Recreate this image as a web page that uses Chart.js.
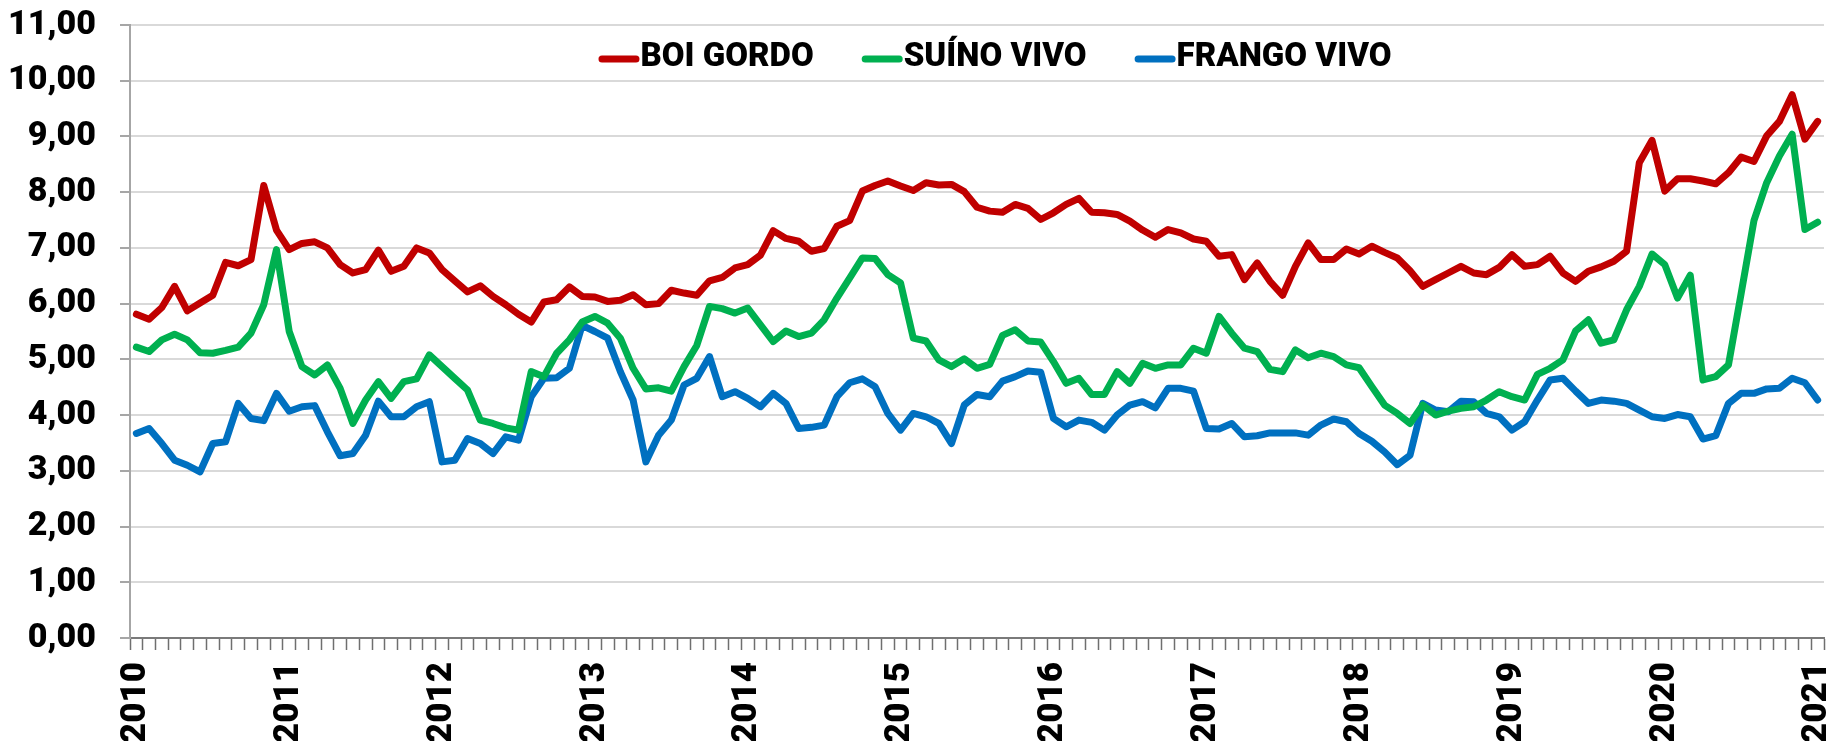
<!DOCTYPE html>
<html>
<head>
<meta charset="utf-8">
<script src="https://cdn.jsdelivr.net/npm/chart.js@4.4.1/dist/chart.umd.min.js"></script>
<style>
  html, body { margin: 0; padding: 0; background: #ffffff; }
  #wrap { width: 1837px; height: 741px; position: relative; }
</style>
</head>
<body>
<div id="wrap"><canvas id="c"></canvas></div>
<script>
// ---- DATA ----
const years = ['2010','2011','2012','2013','2014','2015','2016','2017','2018','2019','2020','2021'];
const monthNames = ['jan','fev','mar','abr','mai','jun','jul','ago','set','out','nov','dez'];
// monthly categories Jan/2010 .. Jan/2021
const categories = [];
years.forEach(y => monthNames.forEach(m => { if (categories.length < 133) categories.push(m + '/' + y); }));

const seriesNames = ['BOI GORDO', 'SUÍNO VIVO', 'FRANGO VIVO'];

const boiGordo = [
  5.81,5.72,5.93,6.31,5.87,6.01,6.15,6.74,6.68,6.79,8.12,7.32,
  6.97,7.08,7.11,7.00,6.70,6.55,6.61,6.96,6.58,6.67,7.00,6.91,
  6.61,6.41,6.21,6.32,6.13,5.98,5.81,5.67,6.03,6.07,6.30,6.13,
  6.12,6.04,6.06,6.16,5.98,6.00,6.24,6.19,6.15,6.41,6.47,6.64,
  6.70,6.87,7.31,7.17,7.12,6.94,6.99,7.39,7.49,8.02,8.12,8.20,
  8.11,8.03,8.17,8.13,8.14,8.01,7.73,7.66,7.64,7.78,7.71,7.51,
  7.63,7.78,7.89,7.64,7.63,7.60,7.48,7.32,7.19,7.33,7.27,7.16,
  7.12,6.85,6.88,6.43,6.73,6.40,6.15,6.67,7.09,6.79,6.79,6.98,
  6.89,7.03,6.92,6.82,6.59,6.31,6.43,6.55,6.67,6.55,6.52,6.65,
  6.88,6.67,6.70,6.85,6.55,6.40,6.58,6.66,6.76,6.94,8.53,8.93,
  8.02,8.24,8.24,8.20,8.15,8.35,8.63,8.55,9.01,9.27,9.75,8.95,
  9.27
];
const suinoVivo = [
  5.22,5.14,5.35,5.45,5.35,5.12,5.11,5.16,5.22,5.47,5.98,6.97,
  5.50,4.87,4.72,4.90,4.48,3.85,4.27,4.60,4.30,4.60,4.65,5.08,
  4.87,4.66,4.45,3.91,3.85,3.77,3.73,4.78,4.69,5.11,5.35,5.67,
  5.77,5.65,5.38,4.84,4.47,4.49,4.43,4.87,5.25,5.95,5.91,5.83,
  5.92,5.62,5.32,5.51,5.41,5.47,5.71,6.10,6.46,6.82,6.81,6.52,
  6.37,5.38,5.33,4.99,4.87,5.01,4.84,4.91,5.43,5.53,5.33,5.31,
  4.96,4.57,4.66,4.37,4.37,4.78,4.57,4.93,4.84,4.90,4.90,5.20,
  5.11,5.77,5.47,5.20,5.14,4.82,4.78,5.17,5.03,5.11,5.05,4.90,
  4.85,4.51,4.18,4.03,3.85,4.18,4.00,4.07,4.12,4.15,4.27,4.42,
  4.33,4.27,4.73,4.84,4.99,5.51,5.71,5.29,5.35,5.89,6.31,6.89,
  6.70,6.10,6.51,4.63,4.69,4.90,6.19,7.49,8.17,8.65,9.04,7.33,
  7.46
];
const frangoVivo = [
  3.67,3.76,3.49,3.19,3.10,2.98,3.49,3.52,4.21,3.94,3.90,4.39,
  4.07,4.15,4.17,3.70,3.27,3.31,3.64,4.25,3.97,3.97,4.15,4.24,
  3.16,3.19,3.58,3.49,3.31,3.61,3.55,4.33,4.66,4.67,4.84,5.61,
  5.50,5.38,4.78,4.27,3.16,3.64,3.91,4.54,4.66,5.05,4.33,4.42,
  4.30,4.15,4.39,4.21,3.76,3.78,3.82,4.33,4.58,4.65,4.51,4.03,
  3.73,4.03,3.97,3.85,3.49,4.18,4.37,4.33,4.61,4.69,4.79,4.77,
  3.94,3.79,3.91,3.87,3.73,4.00,4.18,4.24,4.13,4.48,4.48,4.43,
  3.76,3.75,3.85,3.61,3.63,3.68,3.68,3.68,3.64,3.82,3.93,3.88,
  3.67,3.53,3.34,3.11,3.28,4.21,4.09,4.06,4.25,4.24,4.03,3.97,
  3.73,3.88,4.27,4.63,4.66,4.43,4.21,4.27,4.25,4.21,4.09,3.97,
  3.94,4.01,3.97,3.57,3.63,4.21,4.39,4.39,4.47,4.48,4.66,4.58,
  4.27
];
const yTicks = [0,1,2,3,4,5,6,7,8,9,10,11];

// ---- STYLE ----
const colors = ['#C00000', '#00B050', '#0070C0'];
const FONT = 'Roboto, "Liberation Sans", Arial, sans-serif';

const legendPlugin = {
  id: 'topLegend',
  afterDraw(chart) {
    const ctx = chart.ctx;
    const ca = chart.chartArea;
    ctx.save();
    ctx.font = '900 33px ' + FONT;
    const lineLen = 34, cap = 3.5, gapText = 1, itemGap = 48;
    const items = chart.data.datasets.map(ds => ({
      label: ds.label, color: ds.borderColor, w: ctx.measureText(ds.label).width
    }));
    const itemW = it => cap * 2 + lineLen + gapText + it.w;
    const total = items.reduce((s, it) => s + itemW(it), 0) + itemGap * (items.length - 1);
    let x = (ca.left + ca.right) / 2 + 18 - total / 2;
    const y = 58;
    items.forEach(it => {
      ctx.beginPath();
      ctx.strokeStyle = it.color;
      ctx.lineWidth = 7;
      ctx.lineCap = 'round';
      ctx.moveTo(x + cap, y + 1);
      ctx.lineTo(x + cap + lineLen, y + 1);
      ctx.stroke();
      ctx.fillStyle = '#000000';
      ctx.textBaseline = 'middle';
      ctx.textAlign = 'left';
      ctx.fillText(it.label, x + cap * 2 + lineLen + gapText, y);
      x += itemW(it) + itemGap;
    });
    ctx.restore();
  }
};

const seriesData = [boiGordo, suinoVivo, frangoVivo];

new Chart(document.getElementById('c'), {
  type: 'line',
  data: {
    labels: categories,
    datasets: seriesNames.map((n, i) => ({
      label: n,
      data: seriesData[i],
      borderColor: colors[i],
      backgroundColor: colors[i],
      borderWidth: 7,
      pointRadius: 0,
      tension: 0,
      borderJoinStyle: 'round',
      borderCapStyle: 'round',
      fill: false
    }))
  },
  options: {
    responsive: true,
    maintainAspectRatio: false,
    animation: false,
    events: [],
    layout: { padding: { top: 25, right: 13, left: 0, bottom: 0 } },
    plugins: {
      legend: { display: false },
      tooltip: { enabled: false }
    },
    scales: {
      x: {
        type: 'category',
        offset: true,
        afterFit: s => { s.height = 103; s.paddingLeft = 0; s.paddingRight = 0; },
        grid: {
          offset: true,
          drawOnChartArea: false,
          drawTicks: true,
          tickLength: 12,
          tickWidth: 1.5,
          tickColor: '#6f6f6f'
        },
        border: { display: true, color: '#7a7a7a', width: 2 },
        ticks: {
          autoSkip: false,
          maxRotation: 90,
          minRotation: 90,
          padding: 12,
          color: '#000000',
          font: { family: FONT, size: 35, weight: '900' },
          callback: function(val, idx) {
            return idx % 12 === 0 ? years[idx / 12] : '';
          }
        }
      },
      y: {
        min: 0,
        max: 11,
        afterFit: s => { s.width = 130; s.paddingTop = 0; s.paddingBottom = 0; },
        afterBuildTicks: s => { s.ticks = yTicks.map(v => ({ value: v })); },
        grid: {
          color: '#d9d9d9',
          lineWidth: 2,
          tickLength: 10,
          tickColor: '#a6a6a6',
          tickWidth: 2
        },
        border: { display: true, color: '#a6a6a6', width: 2 },
        ticks: {
          padding: 24,
          color: '#000000',
          font: { family: FONT, size: 34, weight: '900' },
          callback: v => Number(v).toFixed(2).replace('.', ',')
        }
      }
    }
  },
  plugins: [legendPlugin]
});
</script>
</body>
</html>
